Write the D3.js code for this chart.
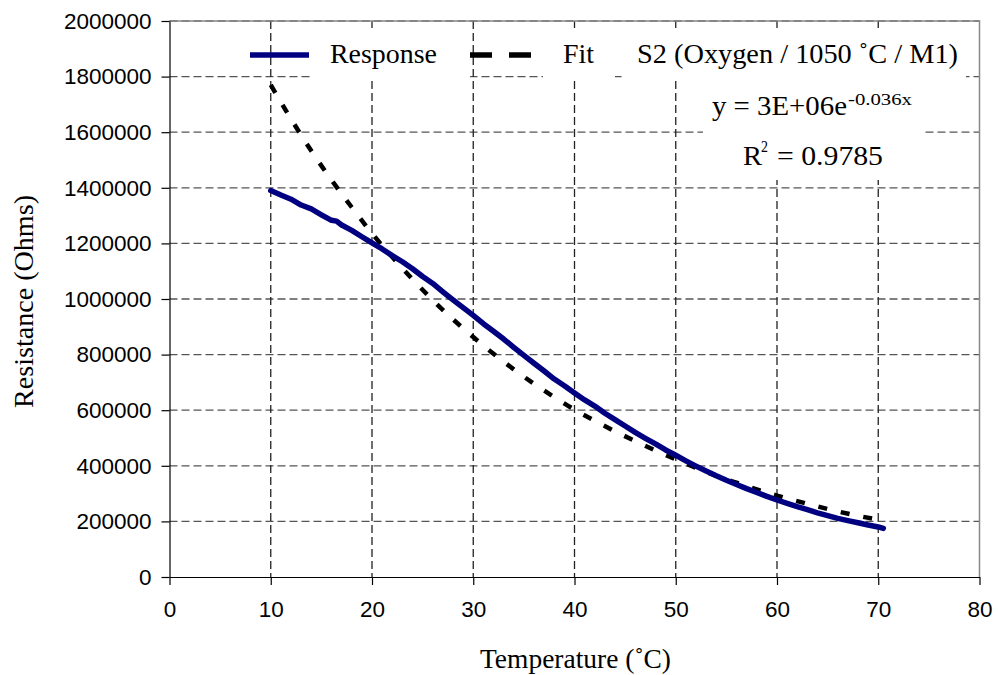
<!DOCTYPE html>
<html>
<head>
<meta charset="utf-8">
<script src="https://cdn.jsdelivr.net/npm/d3@7"></script>
<style>
  body { margin: 0; background: #fff; }
  .tick text { font-family: "Liberation Sans", Arial, sans-serif; font-size: 22.5px; fill: #000; }
  .serif { font-family: "Liberation Serif", "Times New Roman", serif; fill: #000; }
</style>
</head>
<body>
<div class="chart"></div>
<script>
// temperature (°C) readings and measured resistance (Ohms)
const temperature = [10, 11, 12, 13, 14, 15, 16, 16.5, 17, 18, 19, 20, 21, 22, 23, 24, 25, 26, 27, 28, 29, 30,
  31, 32, 33, 34, 35, 36, 37, 38, 39, 40, 41, 42, 43, 44, 45, 46, 47, 48, 49, 50,
  51, 52, 53, 54, 55, 56, 57, 58, 59, 60, 61, 62, 63, 64, 65, 66, 67, 68, 69, 70, 70.5];
const resistance = [1390000, 1374000, 1359000, 1338000, 1324000, 1303000, 1283000, 1280000, 1266000, 1247000, 1224000, 1202000, 1180000, 1156000, 1134000, 1109000, 1081000, 1056000, 1026000, 997000, 969000, 941000,
  911000, 884000, 856000, 826000, 797000, 769000, 741000, 712000, 688000, 662000, 637000, 615000, 589000, 566000, 543000, 520000, 499000, 479000, 457000, 438000,
  418000, 399000, 381000, 364000, 348000, 333000, 318000, 304000, 290000, 277000, 265000, 253000, 242000, 231000, 221000, 211000, 203000, 195000, 187000, 180000, 175000];

// exponential fit
const fitTemperature = [10, 12, 14, 16, 18, 20, 22, 24, 26, 28, 30, 32, 34, 36, 38, 40,
  42, 44, 46, 48, 50, 52, 54, 56, 58, 60, 62, 64, 66, 68, 70];
const fitResistance = [1770000, 1648000, 1533000, 1428000, 1330000, 1236000, 1151000, 1071000, 996000, 927000, 863000, 803000, 747000, 695000, 647000, 602000,
  562000, 524000, 489000, 455000, 423000, 393000, 364000, 339000, 315000, 293000, 273000, 254000, 236000, 220000, 206000];

const xTicks = [0, 10, 20, 30, 40, 50, 60, 70, 80];
const yTicks = [0, 200000, 400000, 600000, 800000, 1000000, 1200000, 1400000, 1600000, 1800000, 2000000];

const width = 998, height = 675;
const plot = { left: 169.5, right: 979.5, top: 21, bottom: 577 };

const svg = d3.select('.chart').append('svg')
  .attr('width', width).attr('height', height);

const x = d3.scaleLinear().domain([0, 80]).range([plot.left, plot.right]);
const y = d3.scaleLinear().domain([0, 2000000]).range([plot.bottom, plot.top]);

// gridlines
svg.append('g').selectAll('line').data(yTicks.slice(1)).enter().append('line')
  .attr('x1', plot.left).attr('x2', plot.right)
  .attr('y1', d => y(d)).attr('y2', d => y(d))
  .attr('stroke', '#555').attr('stroke-width', 1.3).attr('stroke-dasharray', '8,4');
svg.append('g').selectAll('line').data(xTicks.slice(1, -1)).enter().append('line')
  .attr('x1', d => x(d)).attr('x2', d => x(d))
  .attr('y1', plot.top).attr('y2', plot.bottom)
  .attr('stroke', '#222').attr('stroke-width', 1.3).attr('stroke-dasharray', '8,4');

// plot border (top / right)
svg.append('path')
  .attr('d', 'M' + plot.left + ',' + plot.top + 'H' + plot.right + 'V' + plot.bottom)
  .attr('fill', 'none').attr('stroke', '#888').attr('stroke-width', 1.5);

// white boxes behind legend entries and the equation label
const boxes = [[310, 28, 160, 52], [543, 28, 72, 52], [622, 28, 344, 52], [703, 80, 219, 100]];
svg.append('g').selectAll('rect').data(boxes).enter().append('rect')
  .attr('x', d => d[0]).attr('y', d => d[1]).attr('width', d => d[2]).attr('height', d => d[3])
  .attr('fill', '#fff');

// axes
svg.append('g')
  .attr('transform', 'translate(0,' + plot.bottom + ')')
  .call(d3.axisBottom(x).tickValues(xTicks).tickSize(8).tickSizeOuter(0).tickPadding(16));
svg.append('g')
  .attr('transform', 'translate(' + plot.left + ',0)')
  .call(d3.axisLeft(y).tickValues(yTicks).tickSize(8).tickSizeOuter(0).tickPadding(10).tickFormat(d3.format('d')));
svg.selectAll('.domain, .tick line').attr('stroke', '#000').attr('stroke-width', 1.2);

// data lines
const fitLine = d3.line().x(d => x(d[0])).y(d => y(d[1])).curve(d3.curveMonotoneX);
svg.append('path')
  .datum(d3.zip(fitTemperature, fitResistance))
  .attr('d', fitLine)
  .attr('fill', 'none').attr('stroke', '#000').attr('stroke-width', 4.5)
  .attr('stroke-dasharray', '9,14');

const respLine = d3.line().x(d => x(d[0])).y(d => y(d[1]));
svg.append('path')
  .datum(d3.zip(temperature, resistance))
  .attr('d', respLine)
  .attr('fill', 'none').attr('stroke', '#000080').attr('stroke-width', 5.5)
  .attr('stroke-linejoin', 'round').attr('stroke-linecap', 'round');

// legend
svg.append('line').attr('x1', 250).attr('x2', 309).attr('y1', 55).attr('y2', 55)
  .attr('stroke', '#000080').attr('stroke-width', 5.5);
svg.append('line').attr('x1', 470).attr('x2', 531).attr('y1', 55).attr('y2', 55)
  .attr('stroke', '#000').attr('stroke-width', 5.5).attr('stroke-dasharray', '22,17');

function label(txt, lx, ly, size, len, anchor) {
  return svg.append('text').attr('class', 'serif')
    .attr('x', lx).attr('y', ly)
    .attr('font-size', size)
    .attr('text-anchor', anchor || 'start')
    .attr('textLength', len).attr('lengthAdjust', 'spacingAndGlyphs')
    .text(txt);
}

label('Response', 330, 63, 28, 107);
label('Fit', 563, 63, 28, 31);
label('S2 (Oxygen / 1050 ˚C / M1)', 637, 63, 28, 321);

// trendline equation
label('y = 3E+06e', 712, 115, 27, 135);
label('-0.036x', 848, 105, 17, 64);
label('R', 743, 165, 28, 19);
label('2', 761, 152, 16, 7);
label('= 0.9785', 777, 165, 28, 106);

// axis titles
label('Temperature (˚C)', 575.5, 668, 28, 191, 'middle');
label('Resistance (Ohms)', 0, 0, 28, 213, 'middle')
  .attr('transform', 'translate(33,301.5) rotate(-90)');
</script>
</body>
</html>
